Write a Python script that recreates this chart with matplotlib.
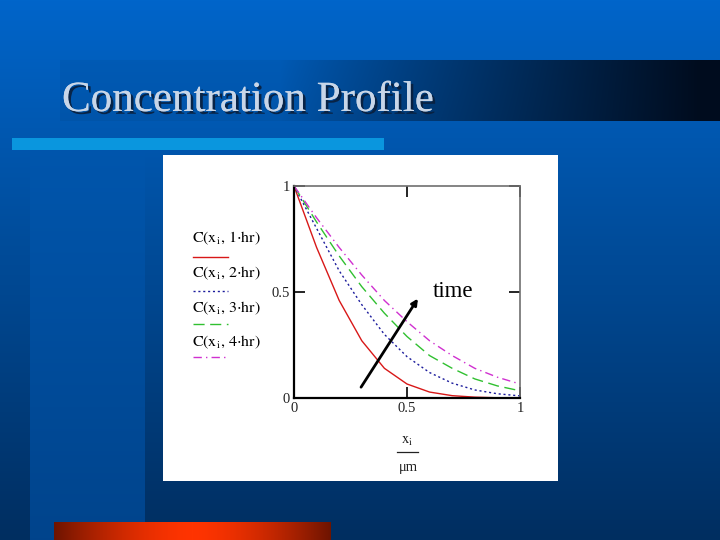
import numpy as np
import matplotlib
matplotlib.use('Agg')
import matplotlib.pyplot as plt
from matplotlib import patheffects

# depth in microns and concentration
x_um = [0.0, 0.1, 0.2, 0.3, 0.4, 0.5, 0.6, 0.7, 0.8, 0.9, 1.0]
c_1hr = [1.0, 0.71, 0.46, 0.27, 0.14, 0.066, 0.028, 0.011, 0.004, 0.001, 0.0]
c_2hr = [1.0, 0.80, 0.60, 0.44, 0.30, 0.195, 0.12, 0.07, 0.038, 0.02, 0.01]
c_3hr = [1.0, 0.83, 0.67, 0.525, 0.40, 0.29, 0.20, 0.14, 0.09, 0.057, 0.034]
c_4hr = [1.0, 0.85, 0.71, 0.58, 0.46, 0.36, 0.27, 0.20, 0.14, 0.098, 0.066]
hours = ['1', '2', '3', '4']
series = [c_1hr, c_2hr, c_3hr, c_4hr]

colors = ['#d81818', '#1c1c9c', '#30c030', '#d030d0']
dashes = [(None, None), (1.5, 2), (8, 4), (6, 3, 1, 3)]

plt.rcParams['mathtext.fontset'] = 'stix'
serif = ['Liberation Serif', 'DejaVu Serif']

fig = plt.figure(figsize=(7.2, 5.4), dpi=100)

# ---- slide background, drawn in pixel coordinates ----
H, W = 540, 720
t = (np.arange(H) / (H - 1))[:, None, None]
top = np.array([0, 101, 202.])
bot = np.array([0, 46, 96.])
img = np.repeat(top + (bot - top) * t, W, axis=1)

# lighter column on the left
s = ((np.arange(150, H) - 150) / (H - 150))[:, None, None]
img[150:, 30:145] += np.array([0, 22, 44.]) * s

# title band fading to black
xs = np.arange(60, W)
s = np.clip((xs - 280) / 420, 0, 1) ** 0.9
band = img[60:121, 60:W] * 0.95
img[60:121, 60:W] = band * (1 - s)[None, :, None] + np.array([0, 12, 30.]) * s[None, :, None]

# light bar below title
img[138:150, 12:384] = [10, 150, 222]

# orange bar at bottom
xs = np.arange(54, 331)
u = (xs - 192) / 138
w = 1 - np.abs(u) ** 1.6
dark = np.array([110, 20, 0.])
bright = np.array([255, 52, 0.])
img[522:540, 54:331] = (dark + (bright - dark) * w[:, None])[None, :, :]

# white panel
img[155:481, 163:558] = 255

bg = fig.add_axes([0, 0, 1, 1], zorder=0)
bg.imshow(img.astype(np.uint8), extent=(0, W, H, 0), aspect='auto', interpolation='nearest')
bg.set_xlim(0, W)
bg.set_ylim(H, 0)
bg.axis('off')

bg.text(62, 111, 'Concentration Profile', fontsize=31, family=serif, color='#c8d6e8',
        va='baseline', ha='left',
        path_effects=[patheffects.withSimplePatchShadow(offset=(2, -2), shadow_rgbFace='#0a1f3c', alpha=0.9),
                      patheffects.Normal()])

# legend: label above line sample
row_text = [238, 273, 308, 342]
row_line = [257, 291, 324, 357]
for i, h in enumerate(hours):
    bg.text(192, row_text[i], r'$\mathrm{C}\left(\mathrm{x_i},\,\mathrm{%s}{\cdot}\mathrm{hr}\right)$' % h,
            fontsize=11.5, color='black', va='center', ha='left')
    ln, = bg.plot([193, 228], [row_line[i], row_line[i]], color=colors[i], lw=1.0)
    if dashes[i][0] is not None:
        ln.set_dashes(dashes[i])

# x axis label as a fraction
bg.text(407, 440, r'$\mathrm{x_i}$', fontsize=10.5, color='#222222', ha='center', va='center')
bg.plot([397, 418], [452, 452], color='#222222', lw=0.9)
bg.text(408, 467, 'μm', fontsize=10.5, family=serif, color='#222222', ha='center', va='center')

# ---- the chart ----
ax = fig.add_axes([294 / 720, 1 - 398 / 540, 226 / 720, 212 / 540], zorder=1)
ax.set_facecolor('white')
for i, c in enumerate(series):
    ln, = ax.plot(x_um, c, color=colors[i], lw=1.0)
    if dashes[i][0] is not None:
        ln.set_dashes(dashes[i])

ax.set_xlim(0, 1)
ax.set_ylim(0, 1)
ax.set_xticks([0, 0.5, 1])
ax.set_yticks([0, 0.5, 1])
ax.set_xticklabels(['0', '0.5', '1'])
ax.set_yticklabels(['0', '0.5', '1'])
ax.tick_params(direction='in', length=8, width=1.2, top=True, right=True,
               labelsize=10.5, labelcolor='#222222', pad=3)
for lab in ax.get_xticklabels() + ax.get_yticklabels():
    lab.set_family(serif)
for side in ['left', 'bottom']:
    ax.spines[side].set_color('black')
    ax.spines[side].set_linewidth(1.6)
for side in ['top', 'right']:
    ax.spines[side].set_color('#707070')
    ax.spines[side].set_linewidth(1.2)

ax.annotate('', xy=(0.555, 0.48), xytext=(0.29, 0.04),
            arrowprops=dict(arrowstyle='-|>', lw=2, color='black', mutation_scale=9))
ax.text(0.615, 0.475, 'time', fontsize=16.5, family=serif, color='black', va='baseline', ha='left')

fig.savefig('out.png', dpi=100)
